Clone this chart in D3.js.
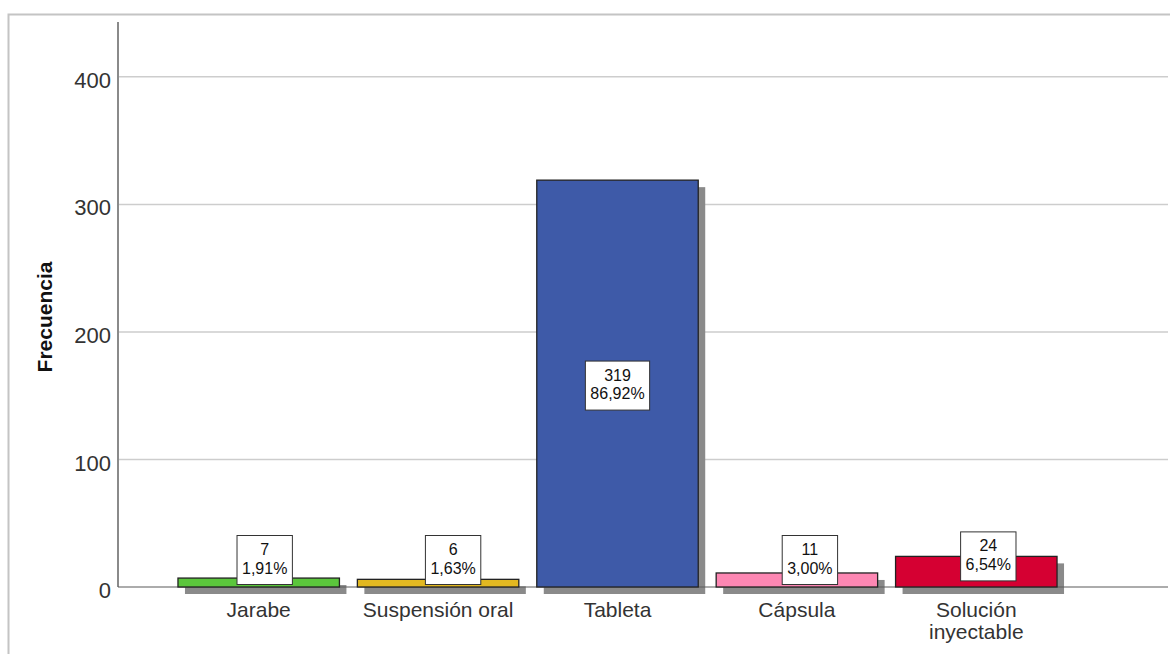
<!DOCTYPE html>
<html>
<head>
<meta charset="utf-8">
<script src="https://cdn.jsdelivr.net/npm/d3@7/dist/d3.min.js"></script>
<style>
  html, body { margin: 0; padding: 0; background: #fff; }
  svg { display: block; font-family: "Liberation Sans", Arial, sans-serif; }
</style>
</head>
<body>
<svg id="chart" width="1170" height="654"></svg>
<script>
// Forma farmacéutica: frecuencias
const categories = ["Jarabe", "Suspensión oral", "Tableta", "Cápsula", "Solución inyectable"];
const frequencies = [7, 6, 319, 11, 24];
const percents = [1.91, 1.63, 86.92, 3.00, 6.54];
const barColors = ["#5bc63c", "#e2b821", "#3e5aa8", "#fd87b3", "#d50032"];
const yTicks = [0, 100, 200, 300, 400];
const yTitle = "Frecuencia";

const svg = d3.select("#chart");

// outer frame
svg.append("rect")
  .attr("x", 8.5).attr("y", 14.5)
  .attr("width", 1180).attr("height", 660)
  .attr("fill", "none").attr("stroke", "#c4c4c4").attr("stroke-width", 2);

const plot = { left: 118, right: 1168, top: 22, bottom: 587 };

const y = d3.scaleLinear().domain([0, 443]).range([plot.bottom, plot.top]);
const x = d3.scaleBand()
  .domain(categories)
  .range([169, 1066])
  .paddingInner(0.1)
  .paddingOuter(0.05);

// gridlines
svg.append("g").selectAll("line")
  .data(yTicks.filter(t => t > 0))
  .join("line")
  .attr("x1", plot.left).attr("x2", plot.right)
  .attr("y1", d => y(d)).attr("y2", d => y(d))
  .attr("stroke", "#cdcdcd").attr("stroke-width", 1.5);

// y axis
const yAxis = svg.append("g")
  .attr("transform", `translate(${plot.left},0)`)
  .call(d3.axisLeft(y).tickValues(yTicks).tickSize(0).tickPadding(7));
yAxis.select(".domain").remove();
yAxis.selectAll("text")
  .attr("font-size", 22)
  .attr("font-family", "Liberation Sans, Arial, sans-serif")
  .attr("fill", "#333")
  .attr("dy", "0.48em");
svg.append("line")
  .attr("x1", plot.left).attr("x2", plot.left)
  .attr("y1", plot.top).attr("y2", plot.bottom)
  .attr("stroke", "#8a8a8a").attr("stroke-width", 2);

// y title
svg.append("text")
  .attr("transform", `translate(52,317) rotate(-90)`)
  .attr("text-anchor", "middle")
  .attr("font-size", 21)
  .attr("font-weight", "bold")
  .attr("fill", "#111")
  .text(yTitle);

// bar shadows
const shadow = 7;
svg.append("g").selectAll("rect")
  .data(categories)
  .join("rect")
  .attr("x", d => x(d) + shadow)
  .attr("y", (d, i) => y(frequencies[i]) + shadow)
  .attr("width", x.bandwidth())
  .attr("height", (d, i) => y(0) - y(frequencies[i]))
  .attr("fill", "#8a8a8a");

// baseline
svg.append("line")
  .attr("x1", plot.left).attr("x2", plot.right)
  .attr("y1", y(0)).attr("y2", y(0))
  .attr("stroke", "#5a5a5a").attr("stroke-width", 1.2);

// bars
svg.append("g").selectAll("rect")
  .data(categories)
  .join("rect")
  .attr("x", d => x(d))
  .attr("y", (d, i) => y(frequencies[i]))
  .attr("width", x.bandwidth())
  .attr("height", (d, i) => y(0) - y(frequencies[i]))
  .attr("fill", (d, i) => barColors[i])
  .attr("stroke", "#222")
  .attr("stroke-width", 1.3);

// category labels
const catG = svg.append("g");
categories.forEach((c, i) => {
  const lines = c === "Solución inyectable" ? ["Solución", "inyectable"] : [c];
  const t = catG.append("text")
    .attr("x", x(c) + x.bandwidth() / 2)
    .attr("y", 617)
    .attr("text-anchor", "middle")
    .attr("font-size", 21)
    .attr("fill", "#333");
  lines.forEach((l, k) => {
    t.append("tspan")
      .attr("x", x(c) + x.bandwidth() / 2)
      .attr("dy", k === 0 ? 0 : 21.5)
      .text(l);
  });
});

// value labels in boxes: count and percentage
const fmtPct = v => v.toFixed(2).replace(".", ",") + "%";
const labelNudge = [6, 15, 0, 13, 12];
const labG = svg.append("g");
categories.forEach((c, i) => {
  const v = frequencies[i];
  const top = y(v);
  const h = y(0) - top;
  const cx = x(c) + x.bandwidth() / 2 + labelNudge[i];
  const cy = h > 100 ? top + h / 2 + 2 : Math.min(top, y(0) - 27);
  const g = labG.append("g");
  const box = g.append("rect");
  const t1 = g.append("text")
    .attr("x", cx).attr("y", cy - 5)
    .attr("text-anchor", "middle")
    .attr("font-size", 16).attr("fill", "#111")
    .text(v);
  const t2 = g.append("text")
    .attr("x", cx).attr("y", cy + 13.5)
    .attr("text-anchor", "middle")
    .attr("font-size", 16).attr("fill", "#111")
    .text(fmtPct(percents[i]));
  const w = Math.max(t1.node().getComputedTextLength(), t2.node().getComputedTextLength()) + 10;
  box.attr("x", cx - w / 2).attr("y", cy - 24.5)
    .attr("width", w).attr("height", 49)
    .attr("fill", "#fff").attr("stroke", "#333").attr("stroke-width", 1);
});
</script>
</body>
</html>
